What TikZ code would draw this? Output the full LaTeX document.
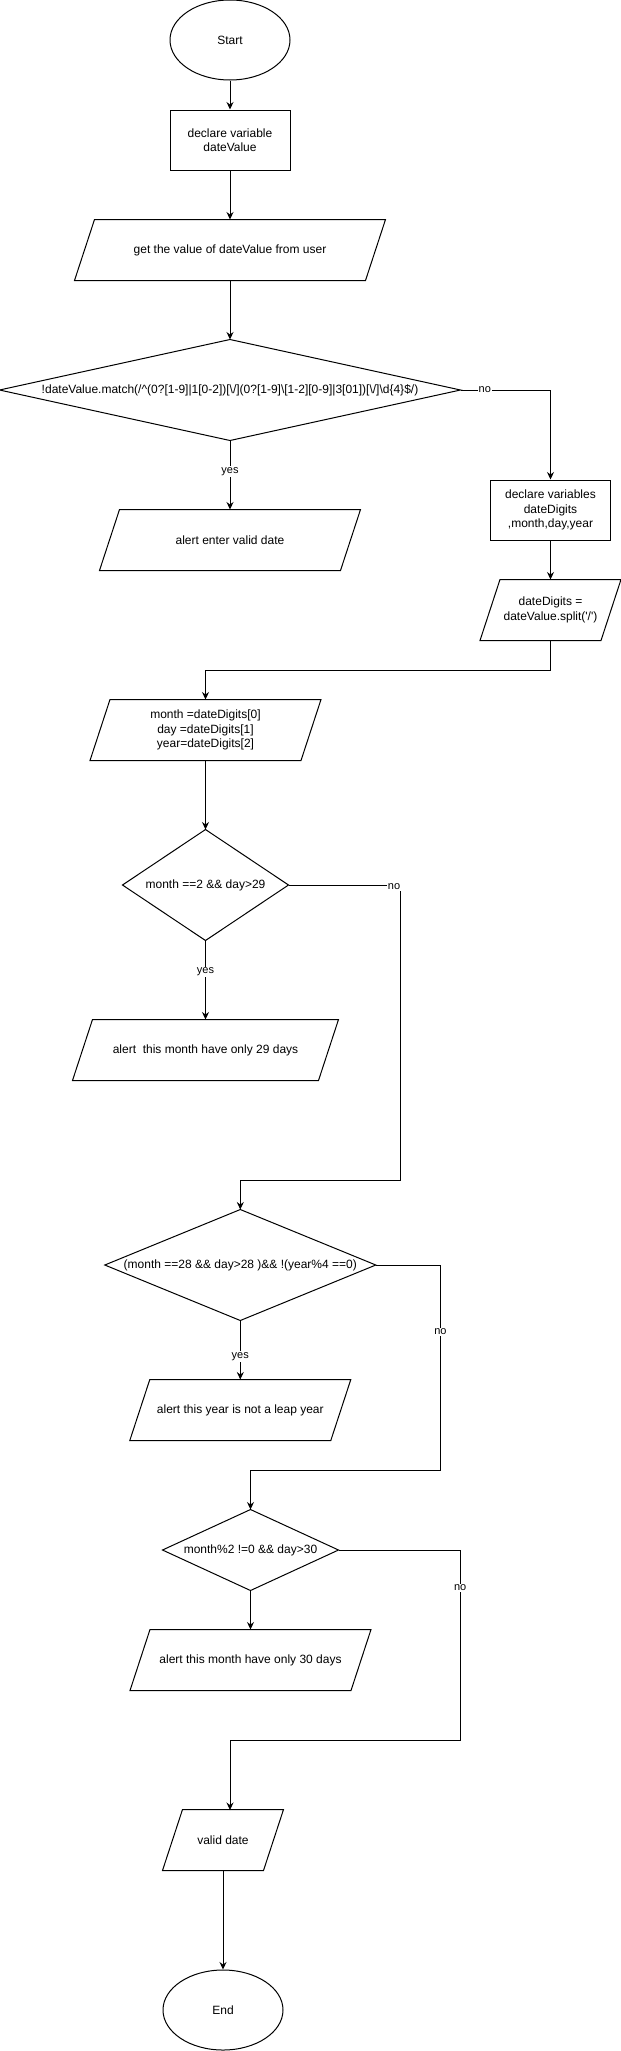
\documentclass[tikz,border=0pt]{standalone}
\usepackage{fontspec}
\setmainfont{Liberation Sans}
\usetikzlibrary{shapes.geometric,arrows.meta}
\newcommand\nodefont{\fontsize{12}{14.4}\selectfont}
\newcommand\lblfont{\fontsize{11}{13}\selectfont}
\newcommand\iopath[1]{\draw ([xshift=20pt]#1.north west) -- (#1.north east) -- ([xshift=-20pt]#1.south east) -- (#1.south west) -- cycle;}
\newcommand\decpath[1]{\draw (#1.north) -- (#1.east) -- (#1.south) -- (#1.west) -- cycle;}
\tikzset{
  term/.style={ellipse, draw, minimum width=120pt, minimum height=80pt, inner sep=0pt, font=\nodefont},
  procbox/.style={rectangle, draw, minimum width=120pt, minimum height=60pt, inner sep=0pt, align=center, font=\nodefont},
  iobox/.style={rectangle, minimum height=60pt, inner sep=0pt, align=center, font=\nodefont},
  decbox/.style={rectangle, inner sep=0pt, align=center, font=\nodefont},
  lbl/.style={fill=white, inner sep=1pt, font=\lblfont},
  arr/.style={-{Stealth[length=7.5pt,width=7pt,inset=2.5pt]}},
}
\begin{document}
\begin{tikzpicture}[x=1pt,y=-1pt,line width=1pt]
\useasboundingbox (0,0) rectangle (621,2051);
% nodes
\node[term] (start) at (230,40) {Start};
\node[procbox] (decl) at (230,140) {declare variable\\dateValue};
\node[iobox, minimum width=310pt] (get) at (230,250) {get the value of dateValue from user};
\node[decbox, minimum width=460pt, minimum height=100pt] (d1) at (230,390)
  {!dateValue.match(/\textasciicircum(0?[1-9]|1[0-2])[\textbackslash/](0?[1-9]\textbackslash[1-2][0-9]|3[01])[\textbackslash/]\textbackslash d\{4\}\$/)};
\node[iobox, minimum width=260pt] (alert1) at (230,540) {alert enter valid date};
\node[procbox] (decl2) at (550.5,510) {declare variables\\dateDigits\\,month,day,year};
\node[iobox, minimum width=140pt] (split) at (550.5,610) {dateDigits =\\dateValue.split(\textquotesingle/\textquotesingle)};
\node[iobox, minimum width=230pt] (assign) at (205.5,730) {month =dateDigits[0]\\day =dateDigits[1]\\year=dateDigits[2]};
\node[decbox, minimum width=165pt, minimum height=110pt] (d2) at (205.5,885) {month ==2 \&\& day>29};
\node[iobox, minimum width=265pt] (alert2) at (205.5,1050) {alert\ \ this month have only 29 days};
\node[decbox, minimum width=270pt, minimum height=110pt] (d3) at (240.3,1265) {(month ==28 \&\& day>28 )\&\& !(year\%4 ==0)};
\node[iobox, minimum width=220pt] (alert3) at (240.3,1410) {alert this year is not a leap year};
\node[decbox, minimum width=175pt, minimum height=80pt] (d4) at (250.5,1550) {month\%2 !=0 \&\& day>30};
\node[iobox, minimum width=240pt] (alert4) at (250.5,1660) {alert this month have only 30 days};
\node[iobox, minimum width=120pt] (valid) at (223,1840) {valid date};
\node[term] (end) at (223,2010) {End};
% shape outlines
\iopath{get}
\iopath{alert1}
\iopath{split}
\iopath{assign}
\iopath{alert2}
\iopath{alert3}
\iopath{alert4}
\iopath{valid}
\decpath{d1}
\decpath{d2}
\decpath{d3}
\decpath{d4}
% connectors
\draw[arr] (start.south) -- (decl.north);
\draw[arr] (decl.south) -- (get.north);
\draw[arr] (get.south) -- (d1.north);
\draw[arr] (d1.south) -- node[lbl, pos=0.45] {yes} (alert1.north);
\draw[arr] (d1.east) -- node[lbl, pos=0.27] {no} (decl2.north |- d1.east) -- (decl2.north);
\draw[arr] (decl2.south) -- (split.north);
\draw[arr] (split.south) -- (550.5,670) -- (205.5,670) -- (assign.north);
\draw[arr] (assign.south) -- (d2.north);
\draw[arr] (d2.south) -- node[lbl, pos=0.4] {yes} (alert2.north);
\draw[arr] (d2.east) -- (400.4,885) -- (400.4,1180.3) -- (240.3,1180.3) -- (d3.north);
\node[lbl] (no2) at (394,886.5) {no};
\draw[arr] (d3.south) -- node[lbl, pos=0.61] {yes} (alert3.north);
\draw[arr] (d3.east) -- (440.4,1265) -- node[lbl, pos=0.325] {no} (440.4,1470.3) -- (250.5,1470.3) -- (d4.north);
\draw[arr] (d4.south) -- (alert4.north);
\draw[arr] (d4.east) -- (460.2,1550) -- node[lbl, pos=0.2] {no} (460.2,1740.3) -- (230,1740.3) -- (230,1810);
\draw[arr] (valid.south) -- (end.north);
\end{tikzpicture}
\end{document}
